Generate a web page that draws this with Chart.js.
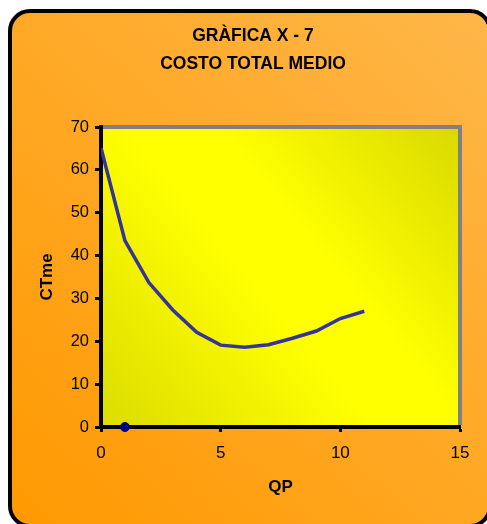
<!DOCTYPE html>
<html>
<head>
<meta charset="utf-8">
<script src="https://cdn.jsdelivr.net/npm/chart.js@4/dist/chart.umd.min.js"></script>
<style>
  html, body { margin: 0; padding: 0; background: #ffffff; overflow: hidden; }
  #wrap { width: 487px; height: 524px; position: relative; }
</style>
</head>
<body>
<div id="wrap"><canvas id="c" width="487" height="524"></canvas></div>
<script>
// Average total cost (CTme) by quantity produced (QP)
const titleLines = ['GRÀFICA X - 7', 'COSTO TOTAL MEDIO'];
const xAxisTitle = 'QP';
const yAxisTitle = 'CTme';
const qp = [0, 1, 2, 3, 4, 5, 6, 7, 8, 9, 10, 11];
const ctme = [65.1, 43.5, 33.7, 27.3, 22.1, 19.1, 18.6, 19.2, 20.7, 22.4, 25.3, 27.0];
const markerQp = [1];
const markerValue = [0];
const xTicks = [0, 5, 10, 15];
const yTicks = [0, 10, 20, 30, 40, 50, 60, 70];

const FONT = "'Liberation Sans', Arial, sans-serif";

// Rounded orange panel behind everything, plus the yellow plot-area fill
const backgroundPlugin = {
  id: 'panelBackground',
  beforeDraw(chart) {
    const ctx = chart.ctx;
    const W = chart.width, H = chart.height;
    ctx.save();
    ctx.fillStyle = '#ffffff';
    ctx.fillRect(0, 0, W, H);

    const x0 = 10, y0 = 11, x1 = 490, y1 = 526, r = 20;
    const g = ctx.createLinearGradient(x0, y1, x1, y0);
    g.addColorStop(0, '#ff9900');
    g.addColorStop(1, '#ffb749');
    ctx.beginPath();
    ctx.moveTo(x0 + r, y0);
    ctx.lineTo(x1 - r, y0);
    ctx.arcTo(x1, y0, x1, y0 + r, r);
    ctx.lineTo(x1, y1 - r);
    ctx.arcTo(x1, y1, x1 - r, y1, r);
    ctx.lineTo(x0 + r, y1);
    ctx.arcTo(x0, y1, x0, y1 - r, r);
    ctx.lineTo(x0, y0 + r);
    ctx.arcTo(x0, y0, x0 + r, y0, r);
    ctx.closePath();
    ctx.fillStyle = g;
    ctx.fill();
    ctx.lineWidth = 4;
    ctx.strokeStyle = '#000000';
    ctx.stroke();

    const a = chart.chartArea;
    const pg = ctx.createLinearGradient(a.left, a.bottom, a.right, a.top);
    pg.addColorStop(0, '#dcdc00');
    pg.addColorStop(0.45, '#ffff00');
    pg.addColorStop(0.6, '#ffff00');
    pg.addColorStop(1, '#d9d900');
    ctx.fillStyle = pg;
    ctx.fillRect(a.left, a.top, a.right - a.left, a.bottom - a.top);
    ctx.restore();
  },
  beforeDatasetsDraw(chart) {
    // grey frame on the top and right sides of the plot area
    const ctx = chart.ctx;
    const a = chart.chartArea;
    ctx.save();
    ctx.strokeStyle = '#808080';
    ctx.lineWidth = 4;
    ctx.beginPath();
    ctx.moveTo(a.left + 2, a.top);
    ctx.lineTo(a.right, a.top);
    ctx.lineTo(a.right, a.bottom - 2);
    ctx.stroke();
    ctx.restore();
  }
};

const lineData = qp.map((q, i) => ({ x: q, y: ctme[i] }));
const markerData = markerQp.map((q, i) => ({ x: q, y: markerValue[i] }));

new Chart(document.getElementById('c'), {
  type: 'scatter',
  data: {
    datasets: [
      {
        label: 'Punto',
        data: markerData,
        pointStyle: 'circle',
        pointRadius: 4.5,
        backgroundColor: '#000080',
        borderColor: '#000080',
        clip: false
      },
      {
        label: yAxisTitle,
        data: lineData,
        showLine: true,
        borderColor: '#333399',
        borderWidth: 3.5,
        pointRadius: 0,
        tension: 0,
        fill: false
      }
    ]
  },
  options: {
    responsive: false,
    devicePixelRatio: 1,
    animation: false,
    layout: { padding: { left: 46, right: 27, top: 0, bottom: 0 } },
    plugins: {
      legend: { display: false },
      tooltip: { enabled: false },
      title: {
        display: true,
        text: titleLines,
        color: '#000000',
        font: { family: FONT, size: 17.5, weight: 'bold', lineHeight: 28 / 17.5 },
        padding: { top: 22, bottom: 49 }
      }
    },
    scales: {
      x: {
        type: 'linear',
        min: 0,
        max: 15,
        afterBuildTicks: s => { s.ticks = xTicks.map(v => ({ value: v })); },
        afterFit: s => { s.height = 97; },
        ticks: { color: '#000000', font: { family: FONT, size: 17 }, padding: 11, maxRotation: 0 },
        grid: { drawOnChartArea: false, drawTicks: true, tickLength: 5, tickColor: '#000000', tickWidth: 3 },
        border: { color: '#000000', width: 4 },
        title: {
          display: true,
          text: xAxisTitle,
          color: '#000000',
          font: { family: FONT, size: 17, weight: 'bold' },
          padding: { top: 0, bottom: 26 }
        }
      },
      y: {
        type: 'linear',
        min: 0,
        max: 70,
        afterBuildTicks: s => { s.ticks = yTicks.map(v => ({ value: v })); },
        afterFit: s => { s.width = 55; },
        ticks: { color: '#000000', font: { family: FONT, size: 16.5 }, padding: 6 },
        grid: { drawOnChartArea: false, drawTicks: true, tickLength: 6, tickColor: '#000000', tickWidth: 3 },
        border: { color: '#000000', width: 4 },
        title: {
          display: true,
          text: yAxisTitle,
          color: '#000000',
          font: { family: FONT, size: 17, weight: 'bold' },
          padding: { top: -9, bottom: 0 }
        }
      }
    }
  },
  plugins: [backgroundPlugin]
});
</script>
</body>
</html>
